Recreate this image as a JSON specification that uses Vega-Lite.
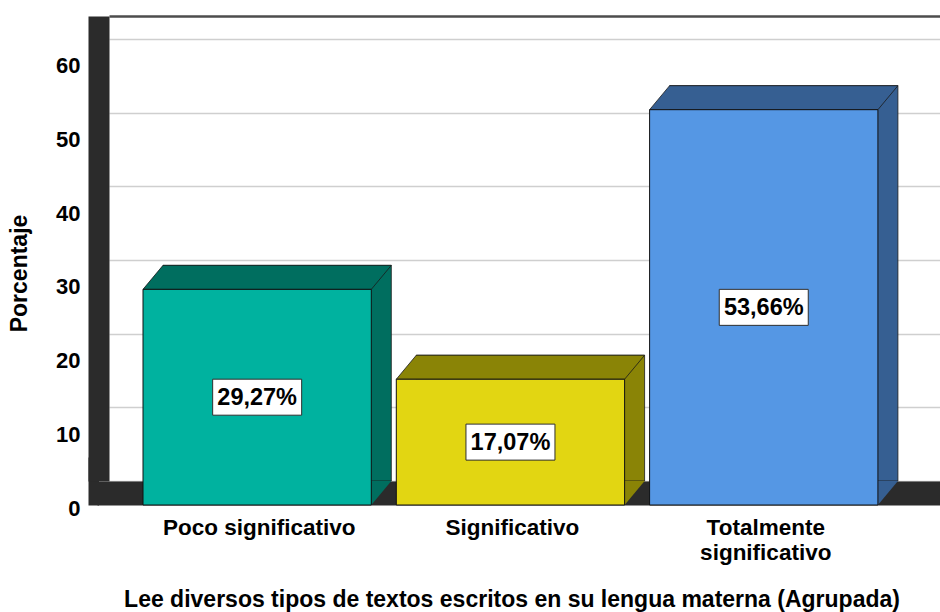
{
  "$schema": "https://vega.github.io/schema/vega-lite/v6.json",
  "autosize": {"type": "none"},
  "width": 831,
  "height": 465,
  "padding": {"left": 109, "top": 16, "right": 0, "bottom": 131},
  "background": "white",
  "config": {"view": {"stroke": null}, "font": "Liberation Sans"},
  "data": {
    "values": [
      {"cat": "Poco significativo", "pct": 29.27, "label": "29,27%"},
      {"cat": "Significativo", "pct": 17.07, "label": "17,07%"},
      {"cat": "Totalmente significativo", "pct": 53.66, "label": "53,66%"}
    ]
  },
  "resolve": {"scale": {"y": "independent"}},
  "layer": [
    {
      "layer": [
        {
          "mark": {"type": "bar", "stroke": "#1a1a1a", "strokeWidth": 0.8, "opacity": 1},
          "encoding": {
            "x": {
              "field": "cat", "type": "nominal", "sort": null,
              "scale": {"paddingInner": 0.0987, "paddingOuter": 0.1897, "align": 0.562},
              "axis": {
                "title": "Lee diversos tipos de textos escritos en su lengua materna (Agrupada)",
                "orient": "bottom", "offset": 12, "domainWidth": 24, "domainColor": "#2b2b2b", "domainCap": "square",
                "ticks": false, "tickSize": 0, "labelAngle": 0, "labelOffset": -18, "labelPadding": 23,
                "labelFontSize": 22.5, "labelFontWeight": "bold", "labelColor": "#000000", "labelLineHeight": 25,
                "labelBaseline": "top", "labelLimit": 0,
                "labelExpr": "datum.value == 'Totalmente significativo' ? ['Totalmente', 'significativo'] : datum.label",
                "titleFontSize": 23, "titleFontWeight": "bold", "titleColor": "#000000",
                "titleX": 402.5, "titleY": 113.5, "titleBaseline": "alphabetic", "titleAlign": "center", "titleLimit": 0,
                "grid": false
              }
            },
            "y": {
              "field": "pct", "type": "quantitative",
              "scale": {"domain": [0, 63.12], "nice": false, "zero": true},
              "axis": {
                "title": "Porcentaje",
                "values": [0, 10, 20, 30, 40, 50, 60, 63.12],
                "offset": 10.5, "domainWidth": 21, "domainColor": "#2b2b2b",
                "ticks": true, "tickSize": 10.5,
                "tickColor": {"condition": {"test": "datum.value == 0", "value": "#2b2b2b"}, "value": "transparent"},
                "tickWidth": {"condition": {"test": "datum.value == 0", "value": 48}, "value": 0},
                "labelOffset": 27, "labelPadding": 8, "labelFontSize": 22, "labelFontWeight": "bold", "labelColor": "#000000",
                "labelBaseline": "middle", "labelFlush": false, "labelOverlap": false,
                "labelExpr": "datum.value > 61 ? '' : datum.label",
                "grid": true,
                "gridColor": {"condition": {"test": "datum.value > 61", "value": "#4d4d4d"}, "value": "#cfcfcf"},
                "gridWidth": {"condition": {"test": "datum.value > 61", "value": 2.5}, "value": 1.5},
                "titleFontSize": 23, "titleFontWeight": "bold", "titleColor": "#000000",
                "titleX": -79.5, "titleY": 257, "titleBaseline": "middle", "titleAngle": 270, "titleAlign": "center"
              }
            },
            "color": {
              "field": "cat", "type": "nominal", "sort": null,
              "scale": {"domain": ["Poco significativo", "Significativo", "Totalmente significativo"], "range": ["#006e5f", "#8a8406", "#365f92"]},
              "legend": null
            }
          }
        },
        {
          "mark": {"type": "point", "shape": "M-114.15,0L114.15,0L94.15,24L-134.15,24Z", "size": 4, "filled": true, "opacity": 1, "stroke": "#1a1a1a", "strokeWidth": 0.8},
          "encoding": {
            "x": {"field": "cat", "type": "nominal", "sort": null},
            "y": {"field": "pct", "type": "quantitative"},
            "color": {"field": "cat", "type": "nominal", "sort": null, "legend": null}
          }
        },
        {
          "mark": {"type": "point", "shape": "M94.15,24L114.15,0L94.15,0Z", "size": 4, "filled": true, "opacity": 1},
          "encoding": {
            "x": {"field": "cat", "type": "nominal", "sort": null},
            "y": {"datum": 0, "type": "quantitative"},
            "color": {"field": "cat", "type": "nominal", "sort": null, "legend": null}
          }
        },
        {
          "mark": {"type": "bar", "xOffset": -20, "yOffset": 24, "y2Offset": 24, "stroke": "#111111", "strokeWidth": 1, "opacity": 1},
          "encoding": {
            "x": {"field": "cat", "type": "nominal", "sort": null},
            "y": {"field": "pct", "type": "quantitative"},
            "fill": {
              "field": "cat", "type": "nominal", "sort": null,
              "scale": {"domain": ["Poco significativo", "Significativo", "Totalmente significativo"], "range": ["#00b29f", "#e2d612", "#5597e4"]},
              "legend": null
            }
          }
        }
      ]
    },
    {
      "layer": [
        {
          "mark": {"type": "point", "shape": "M-44.5,-18L44.5,-18L44.5,18L-44.5,18Z", "size": 4, "filled": true, "opacity": 1, "fill": "#ffffff", "stroke": "#2f2f2f", "strokeWidth": 1, "xOffset": -20, "yOffset": 24},
          "encoding": {
            "x": {"field": "cat", "type": "nominal", "sort": null},
            "y": {"field": "pct", "type": "quantitative", "scale": {"domain": [0, 126.24], "nice": false, "zero": true}, "axis": null}
          }
        },
        {
          "mark": {"type": "text", "fontSize": 23.5, "fontWeight": "bold", "color": "#000000", "align": "center", "baseline": "middle", "xOffset": -20, "yOffset": 25},
          "encoding": {
            "x": {"field": "cat", "type": "nominal", "sort": null},
            "y": {"field": "pct", "type": "quantitative"},
            "text": {"field": "label", "type": "nominal"}
          }
        }
      ]
    }
  ]
}
